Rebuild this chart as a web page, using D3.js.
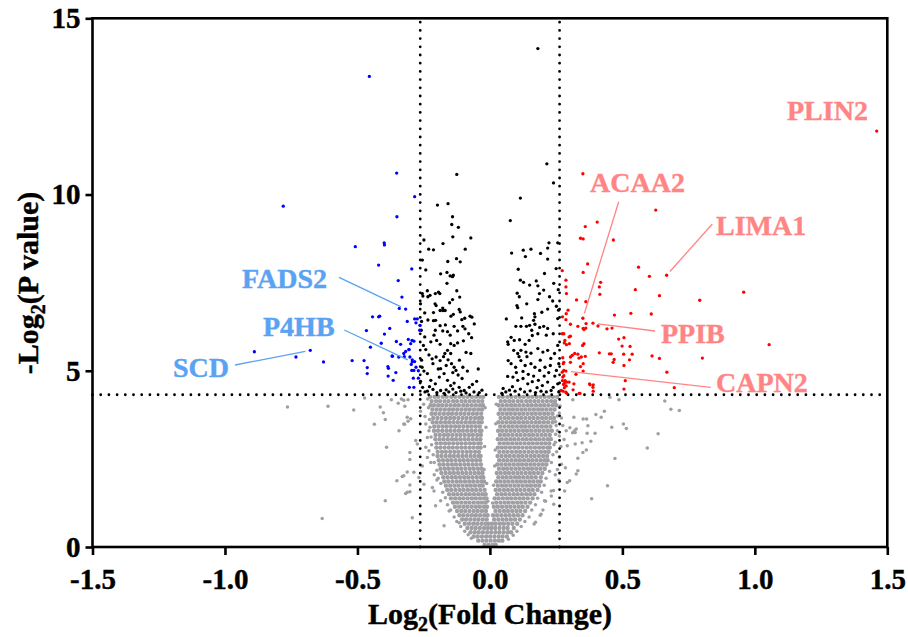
<!DOCTYPE html>
<html><head><meta charset="utf-8">
<script src="https://cdn.jsdelivr.net/npm/d3@7"></script>
<style>body{margin:0;background:#fff}svg{display:block}</style>
</head><body>
<svg id="chart" width="908" height="637"></svg>
<script>
// ---------- data ----------
const xTicks = [-1.5, -1.0, -0.5, 0.0, 0.5, 1.0, 1.5];
const yTicks = [0, 5, 10, 15];
const fcCutoff = 0.263;   // log2(1.2)
const pCutoff = 4.32;     // -log2(0.05)

// non-significant proteins (grey): dense core listed row by row [-log2 p, [log2 FC ...]]
const grayRows = [
 [4.26,[-0.226,-0.209,-0.195,-0.178,-0.163,-0.146,-0.131,-0.115,-0.099,-0.084,-0.068,-0.052,-0.037,-0.025,0.034,0.049,0.066,0.081,0.097,0.113,0.128,0.145,0.160,0.176,0.191,0.207,0.223,0.238,0.254]],
 [4.14,[-0.220,-0.203,-0.188,-0.171,-0.156,-0.139,-0.124,-0.107,-0.092,-0.076,-0.060,-0.044,-0.029,0.041,0.057,0.073,0.088,0.105,0.120,0.137,0.152,0.168,0.183,0.199,0.215,0.231,0.246]],
 [4.02,[-0.224,-0.211,-0.195,-0.180,-0.164,-0.148,-0.132,-0.117,-0.100,-0.085,-0.069,-0.053,-0.037,-0.026,0.033,0.048,0.064,0.080,0.095,0.111,0.127,0.143,0.158,0.174,0.190,0.205,0.221,0.237,0.251]],
 [3.90,[-0.217,-0.201,-0.186,-0.170,-0.154,-0.139,-0.123,-0.107,-0.091,-0.076,-0.060,-0.044,-0.030,0.040,0.056,0.072,0.087,0.103,0.119,0.134,0.150,0.166,0.182,0.197,0.213,0.229,0.244]],
 [3.78,[-0.220,-0.206,-0.190,-0.174,-0.158,-0.143,-0.127,-0.111,-0.096,-0.080,-0.064,-0.049,-0.033,0.033,0.048,0.064,0.079,0.095,0.111,0.126,0.142,0.158,0.173,0.189,0.205,0.220,0.236]],
 [3.66,[-0.214,-0.198,-0.182,-0.166,-0.150,-0.135,-0.119,-0.103,-0.088,-0.072,-0.056,-0.041,-0.030,0.040,0.056,0.071,0.087,0.103,0.118,0.134,0.150,0.165,0.181,0.197,0.212,0.228,0.242]],
 [3.54,[-0.216,-0.201,-0.185,-0.169,-0.154,-0.138,-0.122,-0.107,-0.091,-0.075,-0.060,-0.044,-0.031,0.032,0.047,0.063,0.079,0.094,0.110,0.126,0.141,0.157,0.173,0.188,0.204,0.220,0.237]],
 [3.42,[-0.210,-0.194,-0.178,-0.163,-0.147,-0.131,-0.116,-0.100,-0.084,-0.069,-0.053,-0.038,0.039,0.055,0.071,0.086,0.102,0.118,0.133,0.149,0.165,0.180,0.196,0.212,0.228]],
 [3.30,[-0.211,-0.196,-0.180,-0.164,-0.149,-0.133,-0.117,-0.102,-0.086,-0.070,-0.055,-0.039,-0.032,0.031,0.046,0.062,0.078,0.093,0.109,0.125,0.140,0.156,0.172,0.187,0.203,0.219,0.234]],
 [3.18,[-0.205,-0.189,-0.173,-0.158,-0.142,-0.126,-0.111,-0.095,-0.079,-0.064,-0.048,-0.034,0.038,0.054,0.069,0.085,0.101,0.116,0.132,0.148,0.163,0.179,0.195,0.210,0.226]],
 [3.06,[-0.206,-0.190,-0.175,-0.159,-0.143,-0.128,-0.112,-0.096,-0.081,-0.065,-0.050,-0.036,0.030,0.045,0.061,0.077,0.092,0.108,0.124,0.139,0.155,0.171,0.186,0.202,0.218,0.230]],
 [2.94,[-0.201,-0.185,-0.169,-0.154,-0.138,-0.122,-0.107,-0.091,-0.075,-0.060,-0.044,-0.035,0.037,0.053,0.068,0.084,0.100,0.115,0.131,0.147,0.162,0.178,0.194,0.209,0.224]],
 [2.82,[-0.202,-0.187,-0.171,-0.155,-0.140,-0.124,-0.108,-0.093,-0.077,-0.062,-0.047,-0.035,0.030,0.045,0.060,0.076,0.092,0.107,0.123,0.139,0.154,0.170,0.186,0.201,0.217,0.226]],
 [2.70,[-0.197,-0.181,-0.166,-0.150,-0.134,-0.119,-0.103,-0.087,-0.072,-0.056,-0.041,0.036,0.052,0.067,0.083,0.099,0.114,0.130,0.146,0.161,0.177,0.193,0.208,0.222]],
 [2.58,[-0.198,-0.183,-0.167,-0.151,-0.136,-0.120,-0.104,-0.089,-0.073,-0.058,-0.043,-0.035,0.029,0.044,0.060,0.075,0.091,0.107,0.122,0.138,0.154,0.169,0.185,0.201,0.216]],
 [2.46,[-0.193,-0.177,-0.161,-0.146,-0.130,-0.114,-0.099,-0.083,-0.067,-0.052,-0.037,0.035,0.051,0.066,0.082,0.098,0.113,0.129,0.145,0.160,0.176,0.192,0.207,0.218]],
 [2.34,[-0.190,-0.175,-0.159,-0.143,-0.128,-0.112,-0.096,-0.081,-0.065,-0.050,-0.034,0.028,0.043,0.059,0.074,0.090,0.106,0.121,0.137,0.153,0.168,0.184,0.199,0.213]],
 [2.22,[-0.186,-0.170,-0.155,-0.139,-0.123,-0.108,-0.092,-0.076,-0.061,-0.045,-0.031,0.034,0.050,0.065,0.081,0.097,0.112,0.128,0.144,0.159,0.175,0.191,0.207]],
 [2.10,[-0.183,-0.167,-0.151,-0.136,-0.120,-0.104,-0.089,-0.073,-0.057,-0.042,-0.028,0.026,0.041,0.057,0.072,0.088,0.104,0.119,0.135,0.151,0.166,0.182,0.198]],
 [1.98,[-0.176,-0.160,-0.144,-0.129,-0.113,-0.097,-0.082,-0.066,-0.050,-0.035,-0.025,0.032,0.048,0.063,0.079,0.095,0.110,0.126,0.142,0.157,0.173,0.192]],
 [1.86,[-0.172,-0.157,-0.141,-0.125,-0.110,-0.094,-0.078,-0.063,-0.047,-0.032,-0.022,0.024,0.039,0.055,0.070,0.086,0.102,0.117,0.133,0.149,0.164,0.180,0.192]],
 [1.74,[-0.166,-0.150,-0.134,-0.119,-0.103,-0.087,-0.072,-0.056,-0.040,-0.027,0.030,0.046,0.061,0.077,0.093,0.108,0.124,0.140,0.155,0.171,0.186]],
 [1.62,[-0.161,-0.146,-0.130,-0.114,-0.099,-0.083,-0.067,-0.052,-0.036,-0.020,0.022,0.037,0.053,0.068,0.084,0.100,0.115,0.131,0.147,0.162,0.180]],
 [1.50,[-0.154,-0.138,-0.123,-0.107,-0.091,-0.076,-0.060,-0.044,-0.029,-0.016,0.027,0.043,0.058,0.074,0.090,0.105,0.121,0.137,0.152,0.168]],
 [1.38,[-0.147,-0.131,-0.115,-0.100,-0.084,-0.068,-0.053,-0.037,-0.022,-0.013,0.018,0.033,0.049,0.065,0.080,0.096,0.112,0.127,0.143,0.161]],
 [1.26,[-0.139,-0.124,-0.108,-0.092,-0.077,-0.061,-0.045,-0.030,-0.016,0.024,0.040,0.056,0.071,0.087,0.103,0.118,0.134,0.152]],
 [1.14,[-0.132,-0.116,-0.100,-0.085,-0.069,-0.053,-0.038,-0.022,-0.011,0.015,0.030,0.046,0.062,0.077,0.093,0.109,0.124,0.142]],
 [1.02,[-0.124,-0.108,-0.093,-0.077,-0.061,-0.046,-0.030,-0.015,0.021,0.037,0.053,0.068,0.084,0.100,0.115,0.133]],
 [0.90,[-0.115,-0.100,-0.084,-0.068,-0.053,-0.037,-0.021,-0.009,0.012,0.027,0.043,0.059,0.074,0.090,0.106,0.123]],
 [0.78,[-0.105,-0.090,-0.074,-0.058,-0.043,-0.027,-0.012,0.016,0.032,0.048,0.063,0.079,0.095,0.113]],
 [0.66,[-0.095,-0.079,-0.063,-0.048,-0.032,-0.017,-0.005,0.008,0.022,0.038,0.053,0.069,0.085,0.103]],
 [0.54,[-0.085,-0.069,-0.054,-0.038,-0.022,-0.008,0.006,0.020,0.036,0.052,0.067,0.090]],
 [0.42,[-0.073,-0.057,-0.042,-0.026,-0.010,0.005,0.021,0.036,0.052,0.068,0.080]],
 [0.30,[-0.061,-0.046,-0.030,-0.014,0.001,0.017,0.033,0.048,0.064]],
 [0.18,[-0.044,-0.028,-0.013,0.003,0.019,0.034,0.047]],
 [0.06,[-0.020,-0.005,0.010,0.022]]
];
// grey proteins scattered outside the dense core [log2 FC, -log2 p]
const grayFringe = [
 [-0.764,3.97],[-0.611,3.99],[-0.514,3.89],[-0.473,4.23],[-0.414,3.97],[-0.402,3.81],[-0.395,3.62],[-0.436,3.48],
 [-0.372,4.18],[-0.346,4.08],[-0.334,4.20],[-0.325,4.16],[-0.309,4.18],[-0.321,3.99],[-0.312,3.68],[-0.309,3.57],
 [-0.322,3.48],[-0.343,3.30],[-0.390,2.83],[-0.302,2.68],[-0.302,2.48],[-0.312,2.13],[-0.331,2.00],[-0.351,1.88],
 [-0.302,1.76],[-0.318,1.52],[-0.302,1.57],[-0.395,1.31],[-0.633,0.81],[-0.325,3.49],[-0.299,3.64],[-0.280,3.02],
 [-0.274,2.92],[-0.242,2.83],[-0.230,2.73],[-0.287,2.12],[-0.268,1.97],[-0.249,1.78],[-0.325,2.02],[-0.312,1.55],
 [-0.293,0.83],[-0.205,1.17],[-0.173,0.60],[-0.242,3.49],[-0.230,3.30],[-0.236,3.11],[-0.236,2.54],[-0.223,2.40],
 [-0.217,1.69],[-0.211,1.59],[-0.186,1.31],[-0.154,1.02],[-0.116,0.69],[-0.250,4.05],[-0.262,3.85],[-0.245,3.70],
 [-0.255,2.30],[-0.210,2.05],[-0.200,1.90],
 [-0.235,4.20],[-0.232,3.95],[-0.228,3.62],[-0.226,3.40],[-0.222,3.12],[-0.220,2.90],[-0.214,2.62],[-0.210,2.40],
 [-0.200,2.18],[-0.195,1.95],[-0.185,1.80],[-0.178,1.55],[-0.168,1.40],[-0.160,1.20],[-0.148,1.05],[-0.135,0.85],
 [-0.125,0.72],[-0.110,0.58],[-0.095,0.45],[-0.082,0.35],[-0.070,0.25],[-0.018,3.95],[-0.015,3.40],[-0.020,2.85],
 [-0.022,2.20],[-0.012,1.80],[-0.008,1.30],
 [0.313,4.18],[0.453,4.25],[0.487,4.18],[0.660,4.14],[0.683,3.91],[0.715,3.87],[0.400,3.76],[0.432,3.85],
 [0.420,3.68],[0.317,3.68],[0.352,3.63],[0.365,3.63],[0.370,3.44],[0.504,3.49],[0.515,3.36],[0.460,3.40],
 [0.302,3.38],[0.326,3.35],[0.322,3.25],[0.312,3.24],[0.288,3.30],[0.367,3.23],[0.397,3.23],[0.635,3.21],
 [0.348,2.96],[0.381,3.00],[0.322,2.92],[0.292,2.87],[0.594,2.81],[0.364,2.75],[0.351,2.68],[0.332,2.52],
 [0.472,2.51],[0.326,2.07],[0.292,1.83],[0.444,1.74],[0.384,1.37],[0.241,1.21],[0.245,4.10],[0.262,3.80],
 [0.270,3.66],[0.248,3.55],[0.275,3.45],[0.255,3.30],[0.262,3.15],[0.280,3.05],[0.247,2.97],[0.268,2.85],
 [0.252,2.70],[0.262,2.55],[0.270,2.35],[0.255,2.20],[0.247,2.05],[0.285,2.25],[0.260,1.90],[0.240,1.60],
 [0.232,1.45],[0.210,1.30],[0.200,1.05],[0.190,0.90],[0.172,0.70],[0.319,3.30],[0.332,2.16],[0.301,1.88],
 [0.282,1.59],[0.206,1.31],[0.193,0.93],[0.231,1.59],[0.167,0.65],
 [0.265,4.00],[0.255,3.72],[0.250,3.45],[0.248,3.20],[0.242,2.90],[0.238,2.62],[0.232,2.40],[0.225,2.15],
 [0.212,1.95],[0.205,1.75],[0.195,1.55],[0.180,1.38],[0.172,1.20],[0.158,1.05],[0.148,0.85],[0.132,0.72],
 [0.118,0.58],[0.102,0.45],[0.088,0.33],[0.070,0.22],[0.024,4.05],[0.022,3.50],[0.020,2.75],[0.018,2.30],
 [0.014,1.75],[0.010,1.25]
];
// significant but small fold change (black)
const blackPts = [
 [-0.125,10.57],[-0.198,9.70],[-0.158,9.74],[-0.141,9.37],[-0.144,9.15],[-0.119,9.07],[-0.140,8.80],[-0.072,8.77],
 [-0.249,8.71],[-0.231,8.45],[-0.213,8.43],[-0.177,8.61],[-0.093,8.45],[-0.126,8.18],[-0.112,8.09],[-0.159,8.10],
 [-0.255,8.14],[-0.242,7.86],[-0.186,7.75],[-0.162,7.79],[-0.150,7.69],[-0.141,7.67],[-0.138,7.71],[-0.162,7.48],
 [-0.236,7.27],[-0.255,7.19],[-0.253,7.12],[-0.206,7.19],[-0.194,7.23],[-0.189,7.19],[-0.234,7.10],[-0.226,7.14],
 [-0.125,7.27],[-0.114,7.09],[-0.141,7.02],[-0.152,6.93],[-0.207,6.90],[-0.203,6.85],[-0.178,6.78],[-0.188,6.71],
 [-0.178,6.71],[-0.169,6.71],[-0.246,6.64],[-0.213,6.65],[-0.116,6.74],[-0.112,6.67],[-0.075,6.55],[-0.068,6.52],
 [-0.147,6.55],[-0.138,6.60],[-0.234,6.44],[-0.213,6.42],[-0.205,6.43],[-0.106,6.45],[-0.095,6.49],[-0.059,6.33],
 [-0.188,6.28],[-0.168,6.30],[-0.178,6.13],[-0.135,6.26],[-0.122,6.13],[-0.259,6.15],[-0.246,5.96],[-0.206,6.15],
 [-0.211,6.01],[-0.160,6.11],[-0.150,6.01],[-0.102,6.26],[-0.094,6.19],[-0.080,6.05],[-0.069,5.94],[-0.223,5.82],
 [-0.201,5.86],[-0.188,5.75],[-0.148,5.77],[-0.135,5.72],[-0.122,5.79],[-0.251,5.72],[-0.242,5.60],[-0.160,5.58],
 [-0.170,5.49],[-0.148,5.49],[-0.090,5.52],[-0.072,5.49],[-0.218,5.34],[-0.203,5.39],[-0.188,5.29],[-0.158,5.31],
 [-0.145,5.20],[-0.135,5.10],[-0.128,5.01],[-0.256,5.10],[-0.249,4.99],[-0.236,4.92],[-0.186,5.06],[-0.173,4.92],
 [-0.191,4.82],[-0.102,5.10],[-0.085,4.99],[-0.044,5.05],[-0.223,4.73],[-0.206,4.63],[-0.160,4.73],[-0.148,4.58],
 [-0.135,4.65],[-0.116,4.53],[-0.097,4.44],[-0.078,4.53],[-0.066,4.61],[-0.254,4.53],[-0.236,4.42],[-0.186,4.44],
 [-0.173,4.36],[-0.245,4.40],[-0.228,4.55],[-0.215,4.47],[-0.200,4.38],[-0.165,4.46],[-0.155,4.40],[-0.140,4.48],
 [-0.128,4.38],[-0.110,4.42],[-0.090,4.37],[-0.060,4.40],[-0.050,4.70],[-0.105,4.78],[-0.120,4.88],[-0.140,4.95],
 [-0.165,5.15],[-0.195,5.05],[-0.215,5.20],[-0.230,5.45],[-0.175,5.40],[-0.115,5.30],[-0.100,5.85],[-0.258,5.30],
 [-0.262,4.70],[-0.258,6.40],[-0.262,6.90],[-0.040,4.38],[-0.030,4.45],
 [0.181,14.14],[0.215,10.87],[0.240,10.33],[0.115,9.90],[0.077,9.26],[0.082,8.34],[0.126,8.42],[0.134,8.24],
 [0.155,8.45],[0.191,8.33],[0.218,8.48],[0.223,8.63],[0.256,8.63],[0.218,8.17],[0.107,7.88],[0.115,7.57],
 [0.127,7.51],[0.150,7.43],[0.175,7.55],[0.181,7.41],[0.206,7.76],[0.241,7.48],[0.103,7.20],[0.111,7.10],
 [0.187,7.19],[0.203,7.29],[0.102,6.85],[0.105,6.79],[0.139,6.90],[0.181,7.02],[0.225,7.10],[0.237,6.98],
 [0.062,6.47],[0.168,6.62],[0.170,6.53],[0.165,6.43],[0.196,6.66],[0.218,6.75],[0.251,6.83],[0.259,6.72],
 [0.098,6.26],[0.117,6.26],[0.138,6.26],[0.150,6.29],[0.170,6.32],[0.188,6.23],[0.203,6.26],[0.218,6.20],
 [0.158,6.15],[0.181,6.05],[0.213,6.01],[0.239,6.05],[0.256,6.48],[0.067,5.82],[0.069,5.75],[0.092,5.86],
 [0.112,5.88],[0.133,5.75],[0.148,5.86],[0.090,5.58],[0.105,5.49],[0.117,5.58],[0.136,5.53],[0.155,5.50],
 [0.181,5.63],[0.200,5.53],[0.218,5.58],[0.244,5.49],[0.256,5.72],[0.069,5.29],[0.080,5.20],[0.097,5.10],
 [0.117,5.29],[0.133,5.15],[0.155,5.20],[0.170,5.10],[0.188,5.01],[0.208,5.10],[0.228,5.15],[0.251,5.01],
 [0.067,4.84],[0.087,4.82],[0.105,4.73],[0.125,4.78],[0.143,4.63],[0.160,4.69],[0.183,4.73],[0.198,4.58],
 [0.218,4.68],[0.239,4.53],[0.256,4.63],[0.074,4.45],[0.095,4.42],[0.115,4.48],[0.131,4.40],[0.152,4.43],
 [0.172,4.38],[0.193,4.42],[0.213,4.40],[0.231,4.44],[0.060,4.40],[0.085,4.55],[0.100,4.95],[0.125,4.98],
 [0.145,4.90],[0.165,4.85],[0.178,4.52],[0.205,4.85],[0.222,4.95],[0.245,4.85],[0.260,4.40],[0.050,4.50],
 [0.110,5.40],[0.140,5.40],[0.190,5.30],[0.230,5.35],[0.080,5.95],[0.160,6.00],[0.120,6.50],[0.260,5.20],
 [0.045,4.36],[0.250,7.90],[0.258,7.30]
];
// down-regulated (blue)
const downPts = [
 [-0.455,13.35],[-0.780,9.67],[-0.352,10.61],[-0.284,9.94],[-0.351,9.37],[-0.399,8.63],[-0.398,8.57],[-0.508,8.52],
 [-0.420,8.00],[-0.295,7.89],[-0.346,7.56],[-0.332,7.09],[-0.342,6.77],[-0.318,6.75],[-0.443,6.53],[-0.420,6.53],
 [-0.416,6.55],[-0.312,6.40],[-0.284,6.47],[-0.274,6.47],[-0.279,6.36],[-0.466,6.14],[-0.378,6.20],[-0.398,6.04],
 [-0.265,6.15],[-0.308,5.89],[-0.294,5.86],[-0.287,5.84],[-0.299,5.77],[-0.410,5.78],[-0.353,5.83],[-0.337,5.75],
 [-0.451,5.67],[-0.306,5.60],[-0.678,5.58],[-0.889,5.54],[-0.732,5.39],[-0.628,5.25],[-0.520,5.29],[-0.475,5.29],
 [-0.463,5.09],[-0.463,4.92],[-0.385,5.12],[-0.383,5.07],[-0.384,4.85],[-0.365,4.73],[-0.355,4.95],[-0.369,5.42],
 [-0.344,5.39],[-0.325,5.49],[-0.318,5.55],[-0.302,5.39],[-0.293,5.31],[-0.284,5.26],[-0.293,5.25],[-0.279,5.10],
 [-0.287,5.01],[-0.297,5.18],[-0.304,4.53],[-0.287,4.53],[-0.289,4.79],[-0.270,5.00],[-0.270,4.79],[-0.295,5.01],
 [-0.305,5.60],[-0.323,5.40],[-0.368,5.41],[-0.264,6.29]
];
// up-regulated (red)
const upPts = [
 [1.460,11.80],[0.351,10.59],[0.626,9.56],[0.405,9.22],[0.360,9.09],[0.342,8.76],[0.352,8.74],[0.466,8.71],
 [0.369,8.03],[0.561,7.94],[0.352,7.79],[0.667,7.71],[0.602,7.68],[0.287,7.57],[0.418,7.51],[0.413,7.38],
 [0.289,7.19],[0.549,7.30],[0.415,7.17],[0.640,7.13],[0.958,7.23],[0.327,7.01],[0.362,6.96],[0.792,7.00],
 [0.470,6.58],[0.532,6.63],[0.609,6.61],[0.295,6.72],[0.351,6.49],[0.389,6.35],[0.408,6.27],[0.355,6.17],
 [0.362,6.21],[0.442,6.19],[0.461,6.21],[0.304,6.32],[0.287,6.45],[0.486,5.90],[0.506,5.94],[0.279,6.05],
 [0.299,5.96],[0.281,5.79],[0.289,5.74],[0.355,5.77],[0.350,5.72],[1.054,5.74],[0.499,5.70],[0.529,5.69],
 [0.311,5.44],[0.304,5.39],[0.332,5.47],[0.336,5.36],[0.360,5.41],[0.413,5.51],[0.451,5.48],[0.458,5.48],
 [0.505,5.47],[0.537,5.47],[0.465,5.24],[0.469,5.32],[0.527,5.31],[0.506,5.15],[0.612,5.42],[0.640,5.35],
 [0.802,5.36],[0.277,5.20],[0.279,5.01],[0.287,4.99],[0.304,5.24],[0.342,5.12],[0.352,4.99],[0.325,4.90],
 [0.668,4.96],[0.275,4.82],[0.284,4.72],[0.290,4.68],[0.281,4.64],[0.299,4.68],[0.317,4.63],[0.378,4.60],
 [0.390,4.60],[0.390,4.42],[0.511,4.72],[0.506,4.48],[0.696,4.52],[0.314,4.46],[0.337,4.36],[0.269,4.44],
 [0.287,4.39],[0.273,7.84],[0.287,7.38],[0.274,6.53],[0.288,6.62],[0.332,6.26],[0.352,6.20],[0.363,6.34],
 [0.273,6.05],[0.283,5.86],[0.304,5.98],[0.300,5.77],[0.320,5.49],[0.345,5.39],[0.352,5.20],[0.275,5.37],
 [0.279,5.24],[0.273,4.96],[0.279,4.86],[0.274,4.72],[0.278,4.61],[0.281,4.52],[0.276,4.42],[0.288,4.57],
 [0.290,4.36],[0.376,4.63],[0.389,4.53],[0.340,4.36]
];
// labelled proteins
const labelNames = ["PLIN2", "ACAA2", "LIMA1", "PPIB", "CAPN2", "FADS2", "P4HB", "SCD"];
const labelFC    = [1.460, 0.351, 0.667, 0.389, 0.287, -0.318, -0.293, -0.678];
const labelP     = [11.80, 6.49, 7.71, 6.35, 4.99, 6.75, 5.25, 5.58];
const labelUp    = [true, true, true, true, true, false, false, false];

// ---------- layout (pixels) ----------
const labelLayout = {
  PLIN2: {tx: 787, ty: 120, lx: null, ly: null},
  ACAA2: {tx: 590, ty: 192, lx: 618.7, ly: 201.7},
  LIMA1: {tx: 716, ty: 235, lx: 712.3, ly: 224},
  PPIB:  {tx: 661, ty: 343, lx: 655, ly: 331},
  CAPN2: {tx: 716, ty: 392, lx: 710.7, ly: 387.3},
  FADS2: {tx: 242, ty: 288, lx: 339, ly: 277.3},
  P4HB:  {tx: 263, ty: 336, lx: 344.3, ly: 330},
  SCD:   {tx: 173, ty: 377, lx: 235, ly: 365}
};
const FONT = '"Times New Roman","Liberation Serif",Times,serif';
const colGray = "#a0a0a4", colUp = "#ff0000", colDown = "#0000ff";
const colUpLabel = "#ff8585", colDownLabel = "#5aa2f2";

const svg = d3.select("#chart");
const x = d3.scaleLinear().domain([-1.5, 1.5]).range([92.5, 887.3]);
const y = d3.scaleLinear().domain([0, 15]).range([547, 18.3]);

const grayCore = [];
grayRows.forEach(([py, xs]) => xs.forEach(fx => grayCore.push([fx, py])));

function drawDots(data, color, r) {
  svg.append("g").selectAll("circle").data(data).join("circle")
    .attr("cx", d => x(d[0])).attr("cy", d => y(d[1])).attr("r", r).attr("fill", color);
}
drawDots(grayCore, colGray, 2.2);
drawDots(grayFringe, colGray, 1.75);

// threshold dotted lines
const thr = svg.append("g").attr("stroke", "#000").attr("stroke-width", 2.8)
  .attr("stroke-linecap", "round").attr("stroke-dasharray", "0 8.2").attr("fill", "none");
thr.append("line").attr("x1", x(-1.5)).attr("x2", x(1.5)).attr("y1", y(pCutoff)).attr("y2", y(pCutoff));
[-fcCutoff, fcCutoff].forEach(v => thr.append("line").attr("x1", x(v)).attr("x2", x(v)).attr("y1", y(0)).attr("y2", y(15)));

drawDots(blackPts, "#000", 1.65);
drawDots(downPts, colDown, 1.65);
drawDots(upPts, colUp, 1.65);

// labels + leader lines
labelNames.forEach((name, i) => {
  const L = labelLayout[name];
  const c = labelUp[i] ? colUpLabel : colDownLabel;
  if (L.lx !== null) {
    const px = x(labelFC[i]), py = y(labelP[i]);
    const dx = px - L.lx, dy = py - L.ly, len = Math.hypot(dx, dy);
    const k = (len - 5) / len;
    svg.append("line").attr("x1", L.lx).attr("y1", L.ly)
      .attr("x2", L.lx + dx * k).attr("y2", L.ly + dy * k)
      .attr("stroke", c).attr("stroke-width", 1.3);
  }
  svg.append("text").attr("x", L.tx).attr("y", L.ty).text(name)
    .attr("font-family", FONT).attr("font-size", 28).attr("font-weight", "bold")
    .attr("fill", c).attr("stroke", c).attr("stroke-width", 0.4);
});

// axes
const xAxis = d3.axisBottom(x).tickValues(xTicks).tickFormat(d => d.toFixed(1))
  .tickSize(8).tickPadding(13).tickSizeOuter(0);
const gx = svg.append("g").attr("transform", `translate(0,${y(0)})`).call(xAxis);
const yAxis = d3.axisLeft(y).tickValues(yTicks).tickFormat(d => String(d))
  .tickSize(7).tickPadding(5).tickSizeOuter(0);
const gy = svg.append("g").attr("transform", `translate(${x(-1.5)},0)`).call(yAxis);
[gx, gy].forEach(g => {
  g.select(".domain").remove();
  g.selectAll(".tick line").attr("stroke", "#000").attr("stroke-width", 2.6);
  g.selectAll(".tick text").attr("font-family", FONT).attr("font-size", 29)
    .attr("font-weight", "bold").attr("fill", "#000").attr("stroke", "#000").attr("stroke-width", 0.4);
});

// frame
svg.append("rect").attr("x", x(-1.5)).attr("y", y(15))
  .attr("width", x(1.5) - x(-1.5)).attr("height", y(0) - y(15))
  .attr("fill", "none").attr("stroke", "#000").attr("stroke-width", 2.6);

// axis titles
const xt = svg.append("text").attr("x", 490).attr("y", 624).attr("text-anchor", "middle")
  .attr("font-family", FONT).attr("font-size", 30).attr("font-weight", "bold")
  .attr("fill", "#000").attr("stroke", "#000").attr("stroke-width", 0.4);
xt.append("tspan").text("Log");
xt.append("tspan").attr("font-size", 20).attr("dy", 7).text("2");
xt.append("tspan").attr("dy", -7).text("(Fold Change)");

const yt = svg.append("text").attr("transform", "translate(38,283) rotate(-90)").attr("text-anchor", "middle")
  .attr("font-family", FONT).attr("font-size", 30).attr("font-weight", "bold")
  .attr("fill", "#000").attr("stroke", "#000").attr("stroke-width", 0.4);
yt.append("tspan").text("-Log");
yt.append("tspan").attr("font-size", 20).attr("dy", 7).text("2");
yt.append("tspan").attr("dy", -7).text("(P value)");
</script>
</body></html>
